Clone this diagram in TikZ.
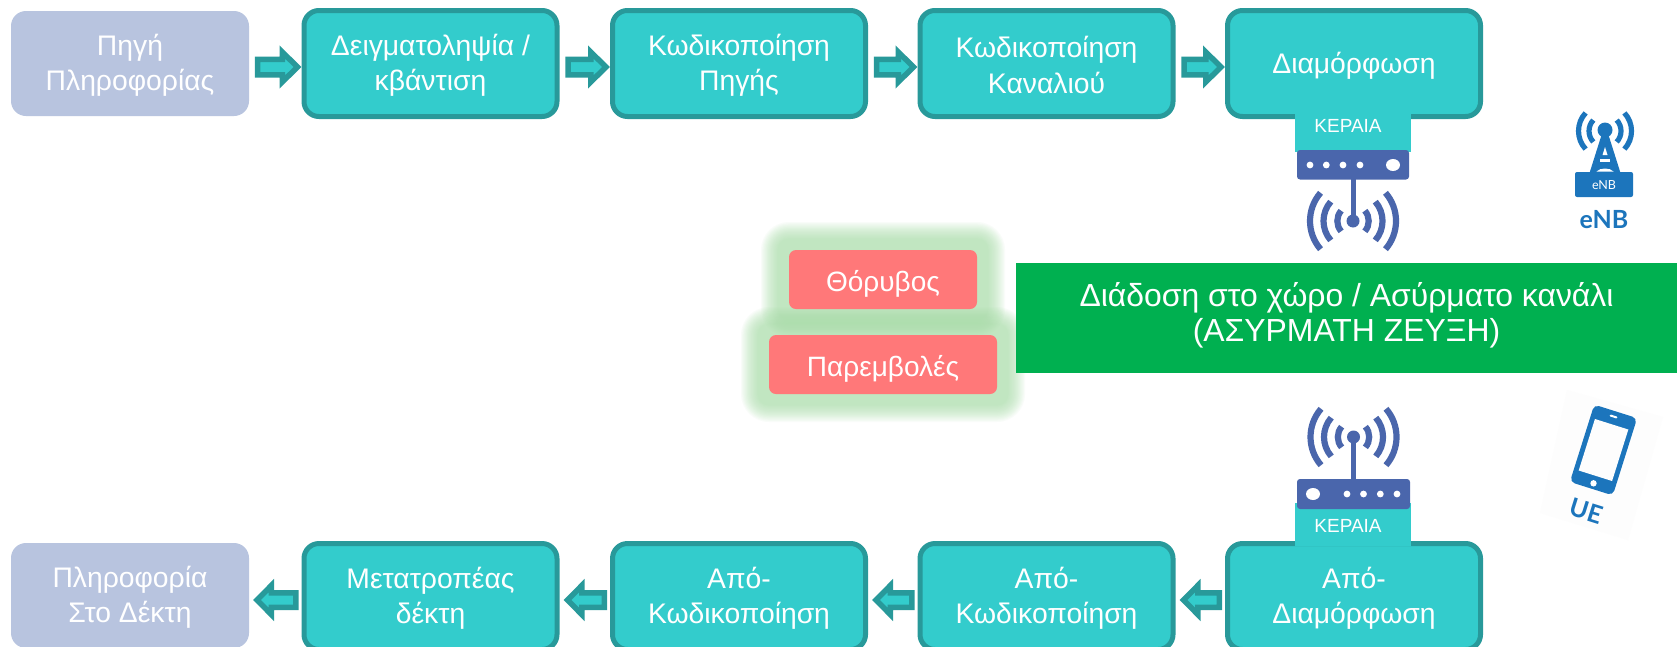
\documentclass[tikz,border=0pt]{standalone}
\usepackage{fontspec}
\setmainfont{Liberation Sans}
\newfontfamily\latofont{Lato}
\usetikzlibrary{calc}
\definecolor{tealfill}{HTML}{33CCCC}
\definecolor{tealline}{HTML}{28999A}
\definecolor{srcfill}{HTML}{B8C4DF}
\definecolor{redfill}{HTML}{FF7879}
\definecolor{greenbar}{HTML}{00B050}
\definecolor{antblue}{HTML}{4A66AC}
\definecolor{iconblue}{HTML}{1C75BC}
\definecolor{glowc}{RGB}{165,222,165}
\tikzset{
  x=1pt,y=-1pt,
  txt/.style={text=white,align=center,text height=60pt,font=\fontsize{28.3}{35.5}\selectfont},
  srcbox/.style={txt,fill=srcfill,rounded corners=15,minimum width=238,minimum height=105,inner sep=0,outer sep=0},
  procbox/.style={txt,draw=tealline,fill=tealfill,line width=5,rounded corners=15,minimum width=253,minimum height=106,inner sep=0},
  redbox/.style={text=white,fill=redfill,rounded corners=7,inner sep=0,outer sep=0,text height=29pt,font=\fontsize{28}{32}\selectfont},
  blockarrow/.style={draw=tealline,fill=tealfill,line width=5.5,line join=miter},
  antwave/.style={draw=antblue,line width=6.2},
  enbwave/.style={draw=iconblue,line width=5.2},
}
\newcommand{\arrowR}[2]{%
  \draw[blockarrow] let \p1=(#1.east),\p2=(#2.west) in
    (\x1+8.5pt,\y1-3.5pt+7.75pt) -- (\x2-19.25pt,\y1-3.5pt+7.75pt) -- (\x2-19.25pt,\y1-3.5pt+15pt) -- (\x2-4pt,\y1-3.5pt)
    -- (\x2-19.25pt,\y1-3.5pt-15pt) -- (\x2-19.25pt,\y1-3.5pt-7.75pt) -- (\x1+8.5pt,\y1-3.5pt-7.75pt) -- cycle;}
\newcommand{\arrowL}[2]{%
  \draw[blockarrow] let \p1=(#1.west),\p2=(#2.east) in
    (\x1-5.75pt,\y1-3.5pt+7.25pt) -- (\x2+22.25pt,\y1-3.5pt+7.25pt) -- (\x2+22.25pt,\y1-3.5pt+14.4pt) -- (\x2+8pt,\y1-3.5pt)
    -- (\x2+22.25pt,\y1-3.5pt-14.4pt) -- (\x2+22.25pt,\y1-3.5pt-7.25pt) -- (\x1-5.75pt,\y1-3.5pt-7.25pt) -- cycle;}
\newcommand{\glowrect}[4]{%
  \foreach \e in {28,26.8,25.6,24.4,23.2,22,20.8,19.6,18.4,17.2,16,14.8,13.6,12.4,11.2}{%
    \fill[glowc,opacity=.065,rounded corners=\e pt] (#1-\e,#2-\e) rectangle (#3+\e,#4+\e);}}
\newcommand{\waves}[2]{%
  \foreach \r in {15.7,29.5,43}{%
    \draw[antwave] (#1,#2)+(139:\r) arc[start angle=139,end angle=221,radius=\r];
    \draw[antwave] (#1,#2)+(41:\r) arc[start angle=41,end angle=-41,radius=\r];}}
\begin{document}
\begin{tikzpicture}
\useasboundingbox (0,0) rectangle (1677,646);
\fill[white] (0,0) rectangle (1677,646);
% glow
\glowrect{789}{250}{977}{309}
\glowrect{769}{335}{997}{394}
% top row
\node[srcbox] (src) at (130,63.5) {Πηγή\\Πληροφορίας};
\node[procbox] (a1) at (430.5,63.5) {Δειγματοληψία /\\κβάντιση};
\node[procbox] (a2) at (739,63.5) {Κωδικοποίηση\\Πηγής};
\node[procbox] (a3) at (1046.5,63.5) {Κωδικοποίηση\\Καναλιού};
\node[procbox,text height=26pt] (a4) at (1354,63.5) {Διαμόρφωση};
\arrowR{src}{a1}\arrowR{a1}{a2}\arrowR{a2}{a3}\arrowR{a3}{a4}
% bottom row
\node[srcbox] (dst) at (130,595.5) {Πληροφορία\\Στο Δέκτη};
\node[procbox] (b1) at (430.5,596.5) {Μετατροπέας\\δέκτη};
\node[procbox] (b2) at (739,596.5) {Από-\\Κωδικοποίηση};
\node[procbox] (b3) at (1046.5,596.5) {Από-\\Κωδικοποίηση};
\node[procbox] (b4) at (1354,596.5) {Από-\\Διαμόρφωση};
\arrowL{b4}{b3}\arrowL{b3}{b2}\arrowL{b2}{b1}\arrowL{b1}{dst}
% antenna labels
\fill[tealfill] (1295,114) rectangle (1411,152);
\node[text=white,font=\fontsize{19}{22}\selectfont,inner sep=0] (kt) at (1348,126) {ΚΕΡΑΙΑ};
\fill[tealfill] (1295,503) rectangle (1411,546);
\node[text=white,font=\fontsize{19}{22}\selectfont,inner sep=0] (kb) at (1348,526) {ΚΕΡΑΙΑ};
% top antenna
\fill[antblue,rounded corners=3] (1297,150) rectangle (1409,179.5);
\foreach \x in {1310,1326.3,1343,1360}{\fill[white] (\x,165) circle[radius=3.4];}
\fill[white] (1393,165) ellipse[x radius=7,y radius=6];
\fill[antblue] (1350.5,179) rectangle (1355.5,221);
\fill[antblue] (1353,221) circle[radius=6.5];
\waves{1353}{221}
% bottom antenna
\fill[antblue,rounded corners=3] (1297,479) rectangle (1410,509);
\foreach \x in {1347,1363.5,1380.3,1397}{\fill[white] (\x,494) circle[radius=3.4];}
\fill[white] (1313,494) ellipse[x radius=7,y radius=6];
\fill[antblue] (1351,437) rectangle (1356,480);
\fill[antblue] (1353.5,437) circle[radius=6.5];
\waves{1353.5}{437}
% green bar
\node[fill=greenbar,text=white,align=center,minimum width=661,minimum height=110,inner sep=0,outer sep=0,text depth=12pt,font=\fontsize{31.9}{35.5}\selectfont] (bar) at (1346.5,318) {Διάδοση στο χώρο / Ασύρματο κανάλι\\(ΑΣΥΡΜΑΤΗ ΖΕΥΞΗ)};
% red boxes
\node[redbox,minimum width=188,minimum height=59] (n1) at (883,279.5) {Θόρυβος};
\node[redbox,minimum width=228,minimum height=59] (n2) at (883,364.5) {Παρεμβολές};
% eNB icon
\foreach \r in {16,26.5}{%
  \draw[enbwave] (1605,131)+(137:\r) arc[start angle=137,end angle=223,radius=\r];
  \draw[enbwave] (1605,131)+(43:\r) arc[start angle=43,end angle=-43,radius=\r];}
\fill[iconblue] (1605,124) -- (1620.5,173) -- (1589.5,173) -- cycle;
\fill[iconblue] (1605,130) circle[radius=7.5];
\fill[white] (1605,147) -- (1607.5,155) -- (1602.5,155) -- cycle;
\fill[white] (1600,159) rectangle (1610,162);
\fill[white] (1596.5,171.5) .. controls (1600,167.5) and (1610,167.5) .. (1613.5,171.5) -- cycle;
\fill[iconblue,rounded corners=2] (1575,172) rectangle (1633,197);
\node[text=white,inner sep=0,font=\latofont\fontsize{12.5}{14}\selectfont] (e1) at (1604,185.5) {eNB};
\node[text=iconblue,inner sep=0,font=\latofont\bfseries\fontsize{25}{28}\selectfont] (e2) at (1604,220) {eNB};
% UE icon
\fill[black!0.8] (1567,390) -- (1663,417) -- (1628,540) -- (1540,513) -- cycle;
\node[fill=iconblue,rounded corners=5,minimum width=45,minimum height=81,inner sep=0,rotate=-17.5] (ph) at (1603.5,450) {};
\node[fill=black!0.8,minimum width=35,minimum height=54,inner sep=0,rotate=-17.5] (sc) at (1603.5,450) {};
\node[fill=white,rounded corners=1,minimum width=8,minimum height=2,inner sep=0,rotate=-17.5] (sp) at (1613.5,416.5) {};
\fill[white] (1593.5,483.3) circle[radius=3.2];
\node[text=iconblue,inner sep=0,rotate=-17.5,font=\latofont\bfseries\fontsize{25}{28}\selectfont] (ue) at (1586,511) {UE};
\end{tikzpicture}
\end{document}
